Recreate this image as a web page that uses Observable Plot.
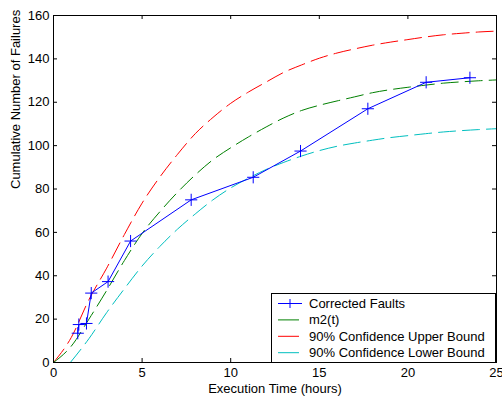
<!DOCTYPE html>
<html><head><meta charset="utf-8">
<script src="https://cdn.jsdelivr.net/npm/d3@7"></script>
<script src="https://cdn.jsdelivr.net/npm/@observablehq/plot@0.6"></script>
<style>body{margin:0;background:#fff} #chart svg{display:block}</style>
</head><body><div id="chart"></div>
<script>
// ---- data ----
const faultTime = [1.37, 1.43, 1.86, 2.13, 3.08, 4.35, 7.77, 11.27, 13.94, 17.74, 21.03, 23.5];
const faultCount = [13.5, 17.5, 18, 32, 37.3, 56, 75, 85.4, 97.5, 117, 129.2, 131.3];

const curveTime = [0,1,2,3,4,5,6,7,8,9,10,11,12,13,14,15,16,17,18,19,20,21,22,23,24,25];
const m2Values = [0, 7.5, 20, 33.2, 47, 59.5, 69.5, 78.5, 86.5, 93.5, 99, 104, 108.6, 112.8, 116.2, 118.6, 120.6, 122.5, 124.4, 125.8, 126.9, 127.9, 128.8, 129.4, 129.9, 130.3];
const upperValues = [0, 11.5, 29, 43.5, 59, 73.5, 85.5, 96, 105.5, 113, 119.5, 124.7, 129.3, 133.8, 137.2, 140.3, 142.7, 144.6, 146.3, 147.7, 148.9, 150.1, 151.1, 151.8, 152.4, 152.8];
const lowerTime = [0.95,2,3,4,5,6,7,8,9,10,11,12,13,14,15,16,17,18,19,20,21,22,23,24,25];
const lowerValues = [0, 11, 23, 34, 44.5, 53.5, 61.5, 68.5, 75, 80.5, 85, 89, 92.3, 95.2, 97.7, 99.7, 101.2, 102.5, 103.7, 104.6, 105.5, 106.3, 106.9, 107.4, 107.8];

const xTicks = [0, 5, 10, 15, 20, 25];
const yTicks = [0, 20, 40, 60, 80, 100, 120, 140, 160];
const xLabel = "Execution Time (hours)";
const yLabel = "Cumulative Number of Failures";
const seriesNames = ["Corrected Faults", "m2(t)", "90% Confidence Upper Bound", "90% Confidence Lower Bound"];
const seriesColors = ["#0000ff", "#008000", "#ff0000", "#00bfbf"];

// ---- layout ----
const W = 502, H = 403, mL = 53, mR = 6, mT = 15, mB = 41;
const fw = W - mL - mR, fh = H - mT - mB, tk = 4;
const rows = (ts, vs) => ts.map((t, i) => ({t, v: vs[i]}));
const faults = rows(faultTime, faultCount);
const dash = "17,7";

const plot = Plot.plot({
  width: W, height: H,
  marginLeft: mL, marginRight: mR, marginTop: mT, marginBottom: mB,
  style: {fontFamily: "'Liberation Sans', Arial, sans-serif", fontSize: "13px", color: "#000", background: "#fff"},
  x: {domain: [0, 25]},
  y: {domain: [0, 160]},
  marks: [
    Plot.line(rows(curveTime, upperValues), {x: "t", y: "v", stroke: seriesColors[2], strokeWidth: 1, strokeDasharray: dash, curve: "monotone-x"}),
    Plot.line(rows(curveTime, m2Values), {x: "t", y: "v", stroke: seriesColors[1], strokeWidth: 1, strokeDasharray: dash, curve: "monotone-x"}),
    Plot.line(rows(lowerTime, lowerValues), {x: "t", y: "v", stroke: seriesColors[3], strokeWidth: 1, strokeDasharray: dash, curve: "monotone-x"}),
    Plot.line(faults, {x: "t", y: "v", stroke: seriesColors[0], strokeWidth: 1}),
    Plot.dot(faults, {x: "t", y: "v", symbol: "plus", r: 4, stroke: seriesColors[0], strokeWidth: 1}),
    Plot.frame({stroke: "#000"}),
    Plot.tickX(xTicks, {x: d => d, insetTop: fh - tk, stroke: "#000"}),
    Plot.tickX(xTicks, {x: d => d, insetBottom: fh - tk, stroke: "#000"}),
    Plot.tickY(yTicks, {y: d => d, insetRight: fw - tk, stroke: "#000"}),
    Plot.tickY(yTicks, {y: d => d, insetLeft: fw - tk, stroke: "#000"}),
    Plot.axisX(xTicks, {tickSize: 0, tickPadding: 5, label: null, fill: "#000"}),
    Plot.axisY(yTicks, {tickSize: 0, tickPadding: 4, label: null, fill: "#000"}),
    Plot.text([xLabel], {text: d => d, frameAnchor: "bottom", dy: 30, fill: "#000"}),
    Plot.text([yLabel], {text: d => d, frameAnchor: "left", dx: -38, rotate: -90, fill: "#000"})
  ]
});

// ---- legend (MATLAB-style box at lower right) ----
const svg = d3.select(plot);
const lx0 = 271, ly0 = 293, lx1 = W - mR, ly1 = H - mB;
const lg = svg.append("g").attr("text-anchor", "start").attr("font-size", "13px");
lg.append("rect").attr("x", lx0 + 0.5).attr("y", ly0 + 0.5)
  .attr("width", lx1 - lx0 - 1).attr("height", ly1 - ly0)
  .attr("fill", "#fff").attr("stroke", "#000");
seriesNames.forEach((name, i) => {
  const cy = 303.5 + i * 16.4;
  const x2 = i === 0 ? 302 : 299;
  lg.append("line").attr("x1", 278).attr("x2", x2).attr("y1", cy).attr("y2", cy)
    .attr("stroke", seriesColors[i]).attr("stroke-width", 1);
  if (i === 0) {
    lg.append("path").attr("d", `M285.5,${cy}h9M290,${cy - 4.5}v9`).attr("stroke", seriesColors[0]).attr("fill", "none");
  }
  lg.append("text").attr("x", 309).attr("y", cy).attr("dy", "0.35em")
    .attr("text-anchor", "start").attr("fill", "#000").text(name);
});

document.getElementById("chart").appendChild(plot);
</script>
</body></html>
